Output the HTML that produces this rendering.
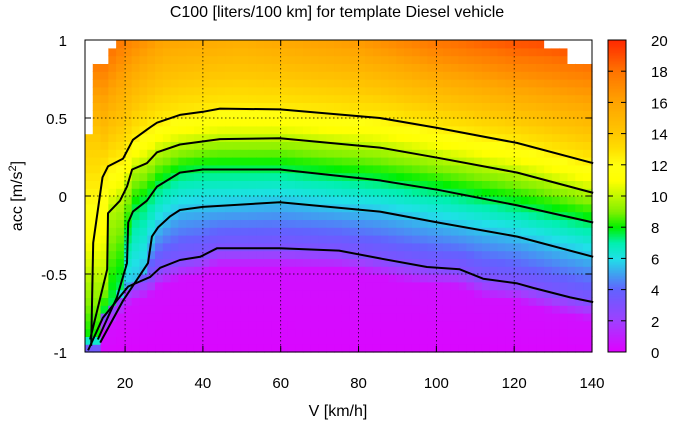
<!DOCTYPE html>
<html><head><meta charset="utf-8"><style>
body{margin:0;background:#fff;}
svg{display:block;font-family:"Liberation Sans",sans-serif;}
</style></head><body>
<svg id="chart" width="674" height="422" viewBox="0 0 674 422" xmlns="http://www.w3.org/2000/svg">
<text x="337" y="17" font-size="16" text-anchor="middle">C100 [liters/100 km] for template Diesel vehicle</text>
<text x="338" y="416" font-size="16" text-anchor="middle">V [km/h]</text>
<text transform="translate(22,196) rotate(-90)" font-size="16" text-anchor="middle">acc [m/s<tspan font-size="11" dy="-6">2</tspan><tspan dy="6">]</tspan></text>
<g id="cells"></g>
<g id="grid"></g>
<g id="contours"></g>
<g id="axes"></g>
<g id="cbar"></g>
</svg>
<script>
// contour levels and lines (V km/h, acc m/s2)
const levels = [3, 5.5, 7.5, 9.8, 12.5];
const lineE_V = [10.5,14.3,20.8,26.4,29.0,34.1,39.3,43.6,59.8,75,85.5,97.6,106,112,120.8,125,134.4,140.3];
const lineE_a = [-0.99,-0.78,-0.58,-0.52,-0.46,-0.41,-0.39,-0.335,-0.335,-0.35,-0.40,-0.455,-0.47,-0.53,-0.56,-0.59,-0.65,-0.68];
const lineD_V = [13.6,19.5,25.9,26.9,28.5,31.6,34.1,40.0,59.8,85.5,100.4,120.8,140.3];
const lineD_a = [-0.94,-0.67,-0.43,-0.26,-0.20,-0.13,-0.09,-0.07,-0.04,-0.10,-0.17,-0.26,-0.39];
const lineC_V = [13.0,17.9,20.5,20.8,22.0,25.6,28.2,34.1,40.0,59.8,85.5,100.4,120.8,140.3];
const lineC_a = [-0.92,-0.65,-0.43,-0.17,-0.10,-0.03,0.06,0.15,0.17,0.17,0.10,0.04,-0.06,-0.17];
const lineB_V = [11.0,15.4,15.6,18.7,20.5,21.8,25.6,28.2,34.1,44.4,59.8,85.5,100.4,120.8,140.3];
const lineB_a = [-0.92,-0.47,-0.11,-0.03,0.06,0.17,0.21,0.28,0.33,0.365,0.37,0.31,0.245,0.15,0.02];
const lineA_V = [11.3,11.8,14.2,15.6,19.5,22.0,26.4,28.2,34.1,40.0,44.4,59.8,85.5,100.4,120.8,140.3];
const lineA_a = [-0.96,-0.30,0.12,0.19,0.24,0.36,0.44,0.47,0.52,0.54,0.56,0.555,0.50,0.436,0.34,0.21];
const topV = [10,14,20,30,50,80,100,120,140];
const topC = [19,19,17.5,16,15.5,16.5,18,19,19.5];
const leftA = [-1,-0.9,-0.3,0.4,1];
const leftC = [2,8,11,14,19];
const xTicks = [20,40,60,80,100,120,140];
const yTicks = [-1,-0.5,0,0.5,1];
const cTicks = [0,2,4,6,8,10,12,14,16,18,20];

const X0=85,X1=592,Y0=352,Y1=40,VMIN=9.7,VMAX=140;
const xs=v=>X0+(v-VMIN)*(X1-X0)/(VMAX-VMIN);
const ys=a=>Y0-(a+1)*(Y0-Y1)/2;
const NS="http://www.w3.org/2000/svg";
function mk(tag,attrs,parent){const e=document.createElementNS(NS,tag);for(const k in attrs)e.setAttribute(k,attrs[k]);parent.appendChild(e);return e;}
function interp(xa,ya,x){if(x<=xa[0])return ya[0];for(let i=1;i<xa.length;i++){if(x<=xa[i]){const t=(x-xa[i-1])/(xa[i]-xa[i-1]||1);return ya[i-1]+t*(ya[i]-ya[i-1]);}}return ya[ya.length-1];}
const lines=[[lineE_V,lineE_a],[lineD_V,lineD_a],[lineC_V,lineC_a],[lineB_V,lineB_a],[lineA_V,lineA_a]];
const stops=[[0,'#e000ff'],[1,'#c020ff'],[2,'#a040ff'],[3,'#8050ff'],[4,'#6262ff'],[5,'#40a0f0'],[6,'#20e0e8'],[7,'#00f0b0'],[8,'#00f000'],[9,'#80f000'],[10,'#c0f800'],[11,'#ffff00'],[12,'#ffff10'],[13,'#ffe000'],[14,'#ffc800'],[16,'#ffa400'],[18,'#ff7400'],[20,'#ff2800']];
function hex(c){return [1,3,5].map(i=>parseInt(c.substr(i,2),16));}
function color(v){v=Math.max(0,Math.min(20,v));for(let i=1;i<stops.length;i++){if(v<=stops[i][0]){const t=(v-stops[i-1][0])/(stops[i][0]-stops[i-1][0]);const a=hex(stops[i-1][1]),b=hex(stops[i][1]);return 'rgb('+a.map((q,j)=>Math.round(q+t*(b[j]-q))).join(',')+')';}}return stops[stops.length-1][1];}
function value(V,a){
  if(V<13.7) return interp(leftA,leftC,a);
  const cs=lines.map(l=>interp(l[0],l[1],V));
  const pa=[-1,cs[0]-0.12],pv=[0.2,0.5];
  for(let i=0;i<5;i++){pa.push(Math.max(cs[i],pa[pa.length-1]+0.01));pv.push(levels[i]);}
  pa.push(1);pv.push(interp(topV,topC,V));
  return interp(pa,pv,a);
}
const cells=document.getElementById('cells');
const dV=2,dA=0.05;
for(let V=VMIN;V<VMAX-0.01;V+=dV){
  for(let a=-1;a<1-0.001;a+=dA){
    const vc=V+dV/2,ac=a+dA/2;
    const x=xs(V),y=ys(a+dA),w=xs(Math.min(V+dV,VMAX))-x,h=ys(a)-y;
    let fill=color(value(vc,ac));
    if((vc<11.7&&ac>0.38)||(vc<15.7&&ac>0.87)||(vc<17.7&&ac>0.95)||(vc>128&&ac>0.95)||(vc>134&&ac>0.87))fill='#fff';
    const r=mk('rect',{x:x.toFixed(2),y:y.toFixed(2),width:(w+0.6).toFixed(2),height:(h+0.6).toFixed(2),fill:fill},cells);
    
    
  }
}
const grid=document.getElementById('grid');
xTicks.forEach(t=>{if(t<VMAX){const g=mk('line',{x1:xs(t),x2:xs(t),y1:Y1,y2:Y0,stroke:'#000','stroke-width':0.7,'stroke-dasharray':'1.5,2.5'},grid);}});
yTicks.forEach(t=>{if(t>-1&&t<1){const g=mk('line',{x1:X0,x2:X1,y1:ys(t),y2:ys(t),stroke:'#000','stroke-width':0.7,'stroke-dasharray':'1.5,2.5'},grid);}});
const cont=document.getElementById('contours');
lines.forEach((l,i)=>{
  const d=l[0].map((v,j)=>(j?'L':'M')+xs(v).toFixed(1)+','+ys(l[1][j]).toFixed(1)).join(' ');
  const p=mk('path',{d:d,fill:'none',stroke:'#000','stroke-width':2,'stroke-linejoin':'round'},cont);
  
  
});
const axes=document.getElementById('axes');
const fr=mk('rect',{x:X0,y:Y1,width:X1-X0,height:Y0-Y1,fill:'none',stroke:'#000','stroke-width':1},axes);


xTicks.forEach(t=>{
  const x=xs(t);
  mk('line',{x1:x,x2:x,y1:Y0,y2:Y0-6,stroke:'#000'},axes);
  mk('line',{x1:x,x2:x,y1:Y1,y2:Y1+6,stroke:'#000'},axes);
  const tx=mk('text',{x:x,y:Y0+36,'font-size':15,'text-anchor':'middle'},axes);
  tx.textContent=t;
  
  
});
yTicks.forEach(t=>{
  const y=ys(t);
  mk('line',{x1:X0,x2:X0+6,y1:y,y2:y,stroke:'#000'},axes);
  mk('line',{x1:X1,x2:X1-6,y1:y,y2:y,stroke:'#000'},axes);
  const tx=mk('text',{x:X0-18,y:y+6,'font-size':15,'text-anchor':'end'},axes);
  tx.textContent=t;
  
  
});
const cb=document.getElementById('cbar');
const CX=608,CW=18;
for(let i=0;i<200;i++){
  const v=i/10;const y=Y0-(i+1)*(Y0-Y1)/200;
  mk('rect',{x:CX,y:y.toFixed(2),width:CW,height:((Y0-Y1)/200+0.5).toFixed(2),fill:color(v+0.05)},cb);
}
const cf=mk('rect',{x:CX,y:Y1,width:CW,height:Y0-Y1,fill:'none',stroke:'#000'},cb);


cTicks.forEach(t=>{
  const y=Y0-t*(Y0-Y1)/20;
  mk('line',{x1:CX,x2:CX+5,y1:y,y2:y,stroke:'#000'},cb);
  mk('line',{x1:CX+CW,x2:CX+CW-5,y1:y,y2:y,stroke:'#000'},cb);
  const tx=mk('text',{x:651,y:y+6,'font-size':15,'text-anchor':'start'},cb);
  tx.textContent=t;
  
  
});
</script>
</body></html>
